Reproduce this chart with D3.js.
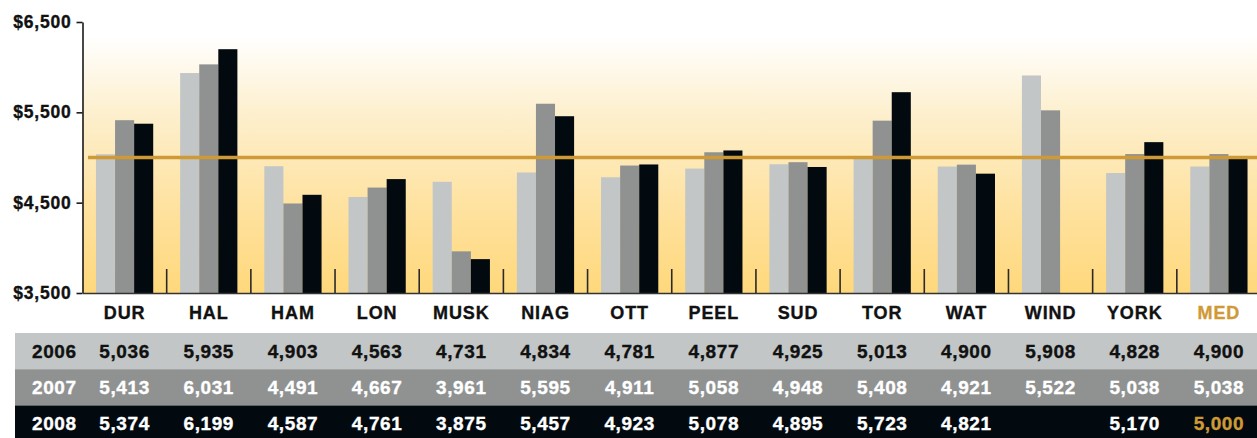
<!DOCTYPE html>
<html>
<head>
<meta charset="utf-8">
<script src="https://cdn.jsdelivr.net/npm/d3@7"></script>
<style>
  html, body { margin: 0; padding: 0; background: #ffffff; }
  svg { display: block; }
  text { font-family: "Liberation Sans", Arial, Helvetica, sans-serif; font-weight: bold; stroke-width: 0.35px; }
</style>
</head>
<body>
<svg id="chart" width="1257" height="438"></svg>
<script>
// ---- data ----
const categories = ["DUR","HAL","HAM","LON","MUSK","NIAG","OTT","PEEL","SUD","TOR","WAT","WIND","YORK","MED"];
const years = ["2006","2007","2008"];
const values2006 = [5036,5935,4903,4563,4731,4834,4781,4877,4925,5013,4900,5908,4828,4900];
const values2007 = [5413,6031,4491,4667,3961,5595,4911,5058,4948,5408,4921,5522,5038,5038];
const values2008 = [5374,6199,4587,4761,3875,5457,4923,5078,4895,5723,4821,null,5170,5000];
const yTicks = [3500,4500,5500,6500];
const medianValue = 5000;

const seriesValues = [values2006, values2007, values2008];
const barColors = ["#c2c6c6", "#8f9291", "#020a10"];
const rowText = ["#111111", "#ffffff", "#ffffff"];
const gold = "#cf9a36";

const W = 1257, H = 438;
const svg = d3.select("#chart");

const plotLeft = 82.5, plotTop = 22, plotBottom = 293;

const x = d3.scaleBand().domain(categories).range([plotLeft, 1261]).paddingInner(0).paddingOuter(0);
const xs = d3.scaleBand().domain(years)
  .range([x.bandwidth() * 0.16, x.bandwidth() * 0.84]).padding(0);
const y = d3.scaleLinear().domain([3500, 6500]).range([plotBottom, plotTop]);

// gradient background
const defs = svg.append("defs");
const grad = defs.append("linearGradient").attr("id", "bg").attr("x1", 0).attr("y1", 0).attr("x2", 0).attr("y2", 1);
[[0, "#ffffff"], [0.05, "#ffffff"], [0.35, "#fdefcc"], [0.65, "#fee3a4"], [1, "#ffd87b"]].forEach(s =>
  grad.append("stop").attr("offset", s[0]).attr("stop-color", s[1]));

svg.append("rect")
  .attr("x", plotLeft).attr("y", plotTop)
  .attr("width", W - plotLeft).attr("height", plotBottom - plotTop)
  .attr("fill", "url(#bg)");

// bars
const barData = [];
categories.forEach((c, i) => {
  years.forEach((yr, j) => {
    const v = seriesValues[j][i];
    if (v != null) barData.push({ cat: c, year: yr, value: v, j: j });
  });
});
svg.append("g").selectAll("rect").data(barData).join("rect")
  .attr("x", d => x(d.cat) + xs(d.year))
  .attr("y", d => y(d.value))
  .attr("width", xs.bandwidth())
  .attr("height", d => y(3500) - y(d.value))
  .attr("fill", d => barColors[d.j]);

// separator ticks between groups
svg.append("g").selectAll("line").data(categories.slice(1)).join("line")
  .attr("x1", d => x(d)).attr("x2", d => x(d))
  .attr("y1", y(3500) - 24).attr("y2", y(3500))
  .attr("stroke", "#2a2a2a").attr("stroke-width", 1.6);

// median line
svg.append("line")
  .attr("x1", 88).attr("x2", W)
  .attr("y1", y(medianValue)).attr("y2", y(medianValue))
  .attr("stroke", gold).attr("stroke-width", 3.5);

// y axis
const yAxis = svg.append("g")
  .attr("transform", `translate(${plotLeft},0)`)
  .call(d3.axisLeft(y).tickValues(yTicks).tickFormat(d => "$" + d3.format(",")(d))
    .tickSize(6).tickSizeOuter(0).tickPadding(5));
yAxis.select(".domain").attr("stroke", "#1a1a1a").attr("stroke-width", 1.6);
yAxis.selectAll(".tick line").attr("stroke", "#1a1a1a").attr("stroke-width", 1.6);
yAxis.selectAll(".tick text")
  .attr("font-size", 17.5).attr("fill", "#111111").attr("stroke", "#111111")
  .style("letter-spacing", "0.8px")
  .attr("font-family", null);

// x axis
const xAxis = svg.append("g")
  .attr("transform", `translate(0,${plotBottom})`)
  .call(d3.axisBottom(x).tickSize(0).tickPadding(13));
xAxis.select(".domain").attr("stroke", "#333333").attr("stroke-width", 1.6);
xAxis.selectAll(".tick text")
  .attr("font-size", 18)
  .attr("font-family", null)
  .style("letter-spacing", "0.9px")
  .attr("fill", d => d === "MED" ? gold : "#111111")
  .attr("stroke", d => d === "MED" ? gold : "#111111");

// table
const rowY = d3.scaleBand().domain(years).range([333, 442]).padding(0);
const table = svg.append("g");
table.selectAll("rect").data(years).join("rect")
  .attr("x", 15).attr("y", d => rowY(d))
  .attr("width", W - 15).attr("height", rowY.bandwidth() + 0.5)
  .attr("fill", (d, j) => barColors[j]);

table.selectAll("text.year").data(years).join("text")
  .attr("class", "year")
  .attr("x", 32)
  .attr("y", d => rowY(d) + rowY.bandwidth() / 2)
  .attr("dy", "0.35em")
  .attr("font-size", 19)
  .style("letter-spacing", "0.6px")
  .attr("fill", (d, j) => rowText[j])
  .attr("stroke", (d, j) => rowText[j])
  .text(d => d);

const cellData = [];
years.forEach((yr, j) => {
  categories.forEach((c, i) => {
    const v = seriesValues[j][i];
    if (v != null) cellData.push({ cat: c, year: yr, value: v, j: j });
  });
});
table.selectAll("text.cell").data(cellData).join("text")
  .attr("class", "cell")
  .attr("x", d => x(d.cat) + x.bandwidth() / 2)
  .attr("y", d => rowY(d.year) + rowY.bandwidth() / 2)
  .attr("dy", "0.35em")
  .attr("text-anchor", "middle")
  .attr("font-size", 19)
  .style("letter-spacing", "0.6px")
  .attr("fill", d => (d.cat === "MED" && d.year === "2008") ? gold : rowText[d.j])
  .attr("stroke", d => (d.cat === "MED" && d.year === "2008") ? gold : rowText[d.j])
  .text(d => d3.format(",")(d.value));
</script>
</body>
</html>
